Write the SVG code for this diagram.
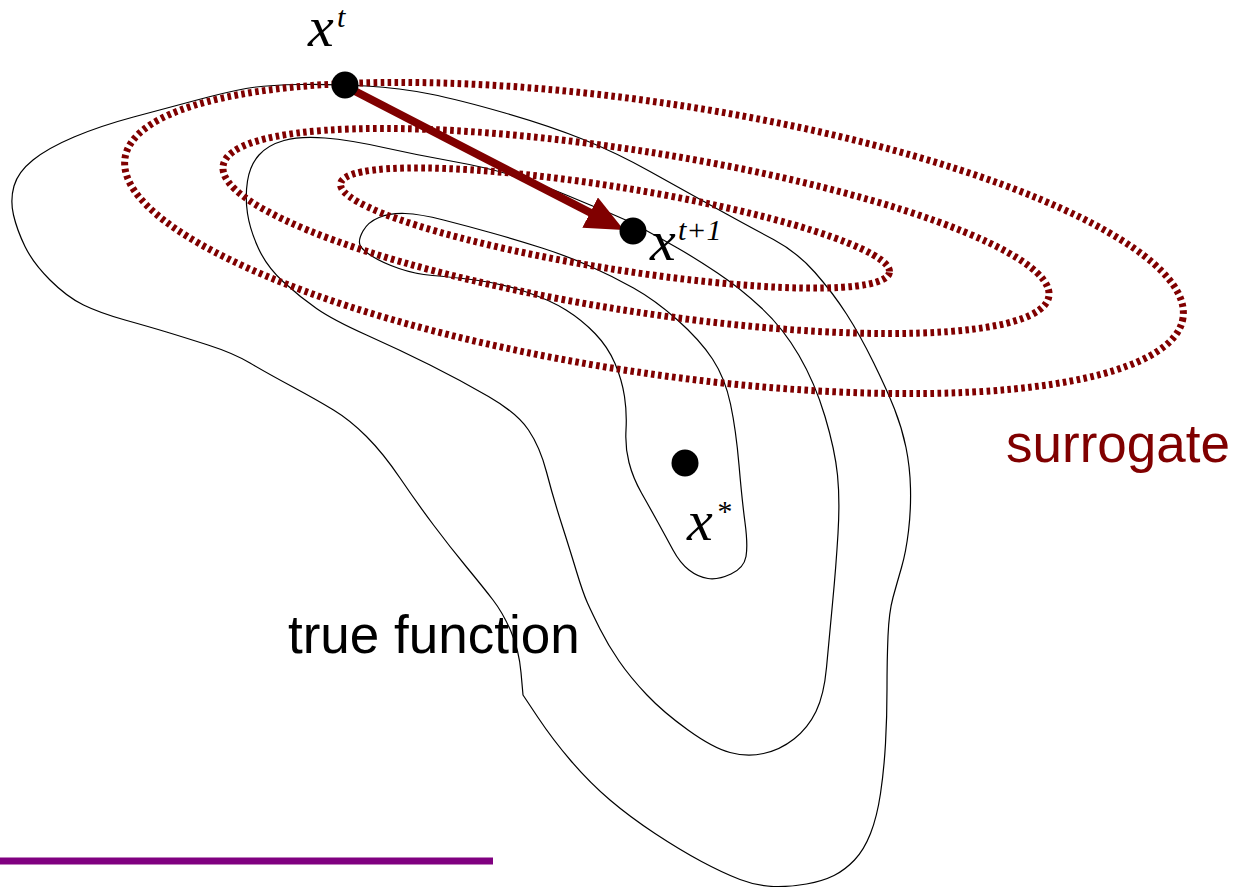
<svg xmlns="http://www.w3.org/2000/svg" width="1235" height="887" viewBox="0 0 1235 887">
<style>
.contour{fill:none;stroke:#000;stroke-width:1.2;stroke-linejoin:round}
.surr{fill:none;stroke:#800000;stroke-width:7;stroke-dasharray:3.6 3.4}
.dot{fill:#000}
.math{font-family:"Liberation Serif",serif;font-style:italic;fill:#000}
.lbl{font-family:"Liberation Sans",Arial,sans-serif;font-size:53px}
</style>
<defs>
<marker id="head" viewBox="0 -17 38 34" markerWidth="38" markerHeight="34" refX="1" refY="0" markerUnits="userSpaceOnUse" orient="auto">
<path d="M0,-17 L38,0 L0,17 Z" fill="#800000"/>
</marker>
</defs>
<rect width="1235" height="887" fill="#fff"/>
<g id="true-function">
<path id="contour-outer" class="contour" d="M13.5,215 Q10,200 14,186 Q18,172 33,160 Q48,148 74,137 Q100,126 133.5,117 Q167,108 197,100 Q227,92 246,88.5 Q265,85 299,84.5 Q333,84 366.5,86 Q400,88 430,94 Q460,100 505,113 Q550,126 583.5,139.5 Q617,153 650,171.5 Q683,190 716.5,208.5 Q750,227 773.5,239.5 Q797,252 815,272.5 Q833,293 846.5,314 Q860,335 873.5,362.5 Q887,390 894.5,409 Q902,428 906,447.5 Q910,467 910.5,488.5 Q911,510 908.5,531 Q906,552 901.5,567.5 Q897,583 893,597.5 Q889,612 888,636 Q887,660 887,688.5 Q887,717 885.5,743.5 Q884,770 880.5,793.5 Q877,817 870.5,833.5 Q864,850 854.5,860 Q845,870 834,875.5 Q823,881 806.5,884 Q790,887 773.5,886.5 Q757,886 740,879.5 Q723,873 701.5,861.5 Q680,850 655,833.5 Q630,817 610,800 Q590,783 571.5,761.5 Q553,740 538,717.5 L523,695 L521,672.5 Q519,650 511,631.5 Q503,613 493,600 Q483,587 466.5,567 Q450,547 433.5,525 Q417,503 400,478 Q383,453 366.5,436.5 Q350,420 333.5,410 Q317,400 292,386.5 Q267,373 250,363 Q233,353 208,345 Q183,337 166.5,332 Q150,327 125,320 Q100,313 83.5,305 Q67,297 50,280 Q33,263 25,246.5 Q17,230 13.5,215 Z"/>
<path id="contour-middle" class="contour" d="M247.5,213.5 Q245,197 247.5,181 Q250,165 259,155 Q268,145 284,140.5 Q300,136 325,138 Q350,140 383.5,147.5 Q417,155 453.5,161.5 Q490,168 517.5,177 Q545,186 567.5,195.5 Q590,205 608.5,212.5 Q627,220 643.5,229 Q660,238 677.5,248 Q695,258 717.5,273 Q740,288 761.5,308 Q783,328 799,355.5 Q815,383 825,416.5 Q835,450 837.5,475 Q840,500 838,533.5 Q836,567 832.5,603.5 Q829,640 826.5,667.5 Q824,695 816,711.5 Q808,728 794,739 Q780,750 763.5,753.5 Q747,757 730,752.5 Q713,748 688,730 Q663,712 646.5,694.5 Q630,677 619,661 Q608,645 600,629 Q592,613 587.5,603 Q583,593 576.5,571.5 Q570,550 561.5,523.5 Q553,497 546.5,472 Q540,447 528.5,430 Q517,413 488.5,396.5 Q460,380 430,365 Q400,350 366.5,335 Q333,320 316.5,308.5 Q300,297 283.5,282 Q267,267 258.5,248.5 Q250,230 247.5,213.5 Z"/>
<path id="contour-inner" class="contour" d="M360,245 Q358,240 363,231 Q368,222 379,217.5 Q390,213 405,213.5 Q420,214 443.5,220 Q467,226 492,233 Q517,240 542,248 Q567,256 589.5,266 Q612,276 633.5,288 Q655,300 677.5,320 Q700,340 712.5,359 Q725,378 730.5,404 Q736,430 739,465 Q742,500 745,522.5 Q748,545 746,556.5 Q744,568 731,574 Q718,580 708,578.5 Q698,577 689,570 Q680,563 673,550 Q666,537 658,522.5 Q650,508 641.5,493 Q633,478 629,462.5 Q625,447 626,430 Q627,413 624.5,396.5 Q622,380 615,363.5 Q608,347 595,333.5 Q582,320 566,310 Q550,300 525,291.5 Q500,283 475,280 Q450,277 432.5,275.5 Q415,274 399,268.5 Q383,263 372.5,256.5 Q362,250 360,245 Z"/>
</g>
<g id="surrogate">
<ellipse class="surr" cx="654" cy="238" rx="535" ry="135" transform="rotate(8.6 654 238)"/>
<ellipse class="surr" cx="636" cy="231" rx="418" ry="80" transform="rotate(9 636 231)"/>
<ellipse class="surr" cx="615" cy="228" rx="278" ry="41" transform="rotate(9.2 615 228)"/>
</g>
<g id="connectors">
<line x1="345" y1="86" x2="591" y2="213" stroke="#800000" stroke-width="8" marker-end="url(#head)"/>
</g>
<g id="node-xt">
<circle class="dot" cx="345" cy="85" r="13.5"/>
<text class="math" x="308" y="46" font-size="58">x</text>
<text class="math" x="337" y="27" font-size="30">t</text>
</g>
<g id="node-xt1">
<circle class="dot" cx="633" cy="231" r="13.5"/>
<text class="math" x="650" y="260" font-size="58">x</text>
<text class="math" x="678" y="240" font-size="30">t+1</text>
</g>
<g id="node-xstar">
<circle class="dot" cx="685" cy="463" r="13.5"/>
<text class="math" x="687" y="540" font-size="58">x</text>
<text class="math" x="716" y="521" font-size="30" font-style="normal">*</text>
</g>
<g id="labels">
<text class="lbl" x="288" y="653" fill="#000">true function</text>
<text class="lbl" x="1006" y="462" fill="#800000">surrogate</text>
</g>
<line id="scale-bar" x1="0" y1="861" x2="493" y2="861" stroke="#800080" stroke-width="7"/>
</svg>
